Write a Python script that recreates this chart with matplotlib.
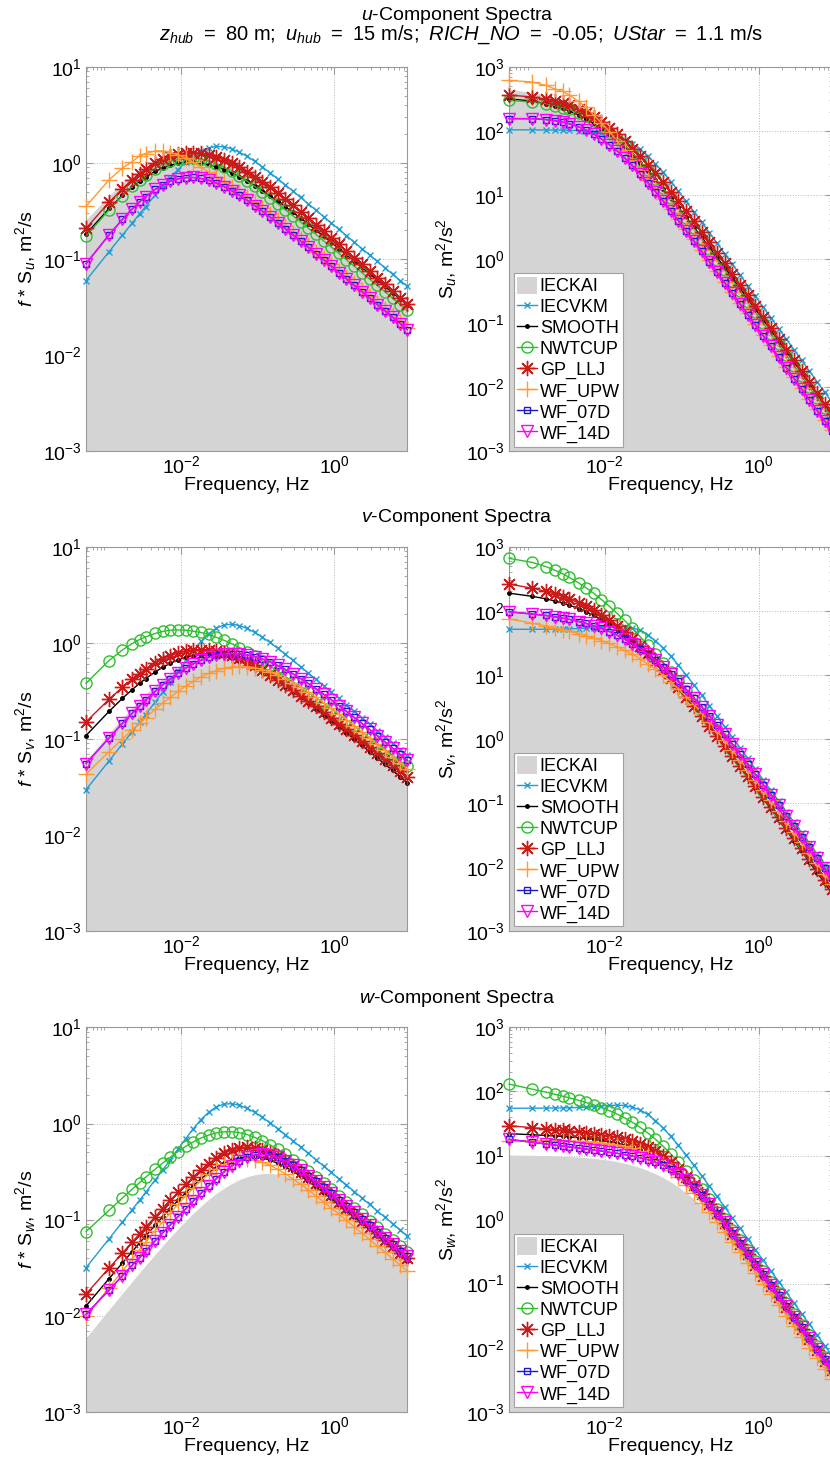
#!/usr/bin/env python3
"""
u, v and w turbulence spectra for the TurbSim spectral models (log-log),
premultiplied (f*S) on the left and plain S on the right.
"""

import numpy as np
import matplotlib
matplotlib.use('Agg')
import matplotlib.pyplot as plt
from matplotlib.patches import Patch
from matplotlib.ticker import FixedLocator, LogLocator, NullFormatter, LogFormatterSciNotation

# Frequencies of the plotted points, Hz
freq = [0.000575, 0.00115, 0.00172, 0.0023, 0.00287, 0.00345, 0.0046, 0.00575, 0.00724, 0.00911,
        0.0115, 0.0144, 0.0182, 0.0229, 0.0288, 0.0363, 0.0457, 0.0575, 0.0724, 0.0911,
        0.115, 0.144, 0.182, 0.229, 0.288, 0.363, 0.457, 0.575, 0.724, 0.911,
        1.15, 1.44, 1.82, 2.29, 2.88, 3.63, 4.57, 5.75, 7.24, 8.91]

# Premultiplied spectra f*S, m^2/s (S itself = f*S / f)
u_ieckai = [0.256, 0.456, 0.612, 0.738, 0.836, 0.917, 1.03, 1.11, 1.17, 1.2,
            1.21, 1.19, 1.15, 1.09, 1.02, 0.941, 0.856, 0.77, 0.687, 0.609,
            0.535, 0.47, 0.409, 0.355, 0.308, 0.267, 0.23, 0.199, 0.171, 0.147,
            0.126, 0.109, 0.0934, 0.0803, 0.069, 0.0592, 0.0508, 0.0436, 0.0374, 0.0326]
u_iecvkm = [0.0595, 0.119, 0.177, 0.236, 0.294, 0.351, 0.463, 0.57, 0.701, 0.85,
            1.02, 1.18, 1.32, 1.43, 1.48, 1.47, 1.4, 1.29, 1.17, 1.04,
            0.907, 0.791, 0.683, 0.59, 0.508, 0.436, 0.375, 0.322, 0.276, 0.237,
            0.203, 0.175, 0.149, 0.128, 0.11, 0.0944, 0.0809, 0.0694, 0.0596, 0.0519]
u_smooth = [0.181, 0.335, 0.459, 0.561, 0.643, 0.712, 0.814, 0.884, 0.943, 0.985,
            1.01, 1.01, 0.993, 0.959, 0.911, 0.852, 0.786, 0.717, 0.648, 0.58,
            0.515, 0.456, 0.4, 0.35, 0.306, 0.266, 0.23, 0.199, 0.172, 0.149,
            0.128, 0.111, 0.0948, 0.0816, 0.0702, 0.0603, 0.0517, 0.0445, 0.0382, 0.0333]
u_nwtcup = [0.172, 0.324, 0.454, 0.568, 0.663, 0.745, 0.873, 0.963, 1.04, 1.1,
            1.12, 1.12, 1.1, 1.04, 0.977, 0.897, 0.813, 0.728, 0.646, 0.569,
            0.497, 0.434, 0.376, 0.325, 0.281, 0.242, 0.209, 0.18, 0.154, 0.133,
            0.114, 0.098, 0.0839, 0.072, 0.0618, 0.053, 0.0455, 0.039, 0.0335, 0.0291]
u_gp_llj = [0.208, 0.388, 0.537, 0.664, 0.768, 0.857, 0.993, 1.09, 1.17, 1.23,
            1.27, 1.28, 1.26, 1.21, 1.15, 1.07, 0.987, 0.897, 0.806, 0.718,
            0.635, 0.556, 0.482, 0.417, 0.36, 0.309, 0.266, 0.228, 0.195, 0.166,
            0.142, 0.121, 0.103, 0.088, 0.075, 0.0638, 0.0543, 0.0463, 0.0394, 0.034]
u_wf_upw = [0.352, 0.665, 0.884, 1.03, 1.18, 1.25, 1.33, 1.33, 1.28, 1.21,
            1.12, 1.01, 0.9, 0.8, 0.71, 0.63, 0.56, 0.495, 0.44, 0.388,
            0.339, 0.294, 0.253, 0.218, 0.188, 0.161, 0.139, 0.119, 0.102, 0.0879,
            0.0753, 0.0649, 0.0555, 0.0477, 0.0409, 0.0351, 0.0301, 0.0258, 0.0221, 0.0193]
u_wf_07d = [0.0891, 0.178, 0.258, 0.33, 0.391, 0.445, 0.529, 0.589, 0.642, 0.681,
            0.702, 0.704, 0.688, 0.658, 0.616, 0.566, 0.513, 0.46, 0.408, 0.359,
            0.314, 0.274, 0.238, 0.206, 0.178, 0.153, 0.132, 0.113, 0.0976, 0.0839,
            0.0719, 0.0619, 0.053, 0.0455, 0.0391, 0.0335, 0.0288, 0.0247, 0.0212, 0.0184]
u_wf_14d = [0.0891, 0.178, 0.258, 0.33, 0.391, 0.445, 0.529, 0.589, 0.642, 0.681,
            0.702, 0.704, 0.688, 0.658, 0.616, 0.566, 0.513, 0.46, 0.408, 0.359,
            0.314, 0.274, 0.238, 0.206, 0.178, 0.153, 0.132, 0.113, 0.0976, 0.0839,
            0.0719, 0.0619, 0.053, 0.0455, 0.0391, 0.0335, 0.0288, 0.0247, 0.0212, 0.0184]

v_ieckai = [0.0593, 0.114, 0.163, 0.21, 0.252, 0.292, 0.361, 0.421, 0.486, 0.551,
            0.615, 0.671, 0.719, 0.752, 0.77, 0.772, 0.758, 0.73, 0.69, 0.643,
            0.589, 0.536, 0.48, 0.428, 0.379, 0.333, 0.291, 0.254, 0.22, 0.191,
            0.165, 0.143, 0.123, 0.106, 0.0911, 0.0782, 0.0672, 0.0578, 0.0496, 0.0433]
v_iecvkm = [0.0295, 0.059, 0.0884, 0.119, 0.149, 0.179, 0.242, 0.306, 0.392, 0.503,
            0.648, 0.822, 1.03, 1.24, 1.42, 1.53, 1.56, 1.51, 1.41, 1.28,
            1.14, 1.01, 0.875, 0.758, 0.655, 0.563, 0.484, 0.416, 0.357, 0.307,
            0.263, 0.226, 0.194, 0.166, 0.143, 0.122, 0.105, 0.0899, 0.0771, 0.0671]
v_smooth = [0.108, 0.193, 0.264, 0.325, 0.377, 0.423, 0.497, 0.555, 0.611, 0.662,
            0.705, 0.734, 0.752, 0.755, 0.744, 0.72, 0.686, 0.645, 0.597, 0.547,
            0.494, 0.445, 0.396, 0.35, 0.309, 0.27, 0.236, 0.205, 0.178, 0.154,
            0.133, 0.115, 0.0993, 0.0855, 0.0737, 0.0633, 0.0544, 0.0468, 0.0402, 0.035]
v_nwtcup = [0.378, 0.653, 0.842, 0.979, 1.08, 1.15, 1.25, 1.31, 1.35, 1.36,
            1.35, 1.32, 1.28, 1.22, 1.14, 1.06, 0.978, 0.892, 0.807, 0.725,
            0.646, 0.575, 0.507, 0.446, 0.392, 0.346, 0.304, 0.267, 0.235, 0.205,
            0.179, 0.157, 0.137, 0.118, 0.103, 0.0898, 0.0781, 0.0678, 0.0588, 0.0519]
v_gp_llj = [0.15, 0.258, 0.344, 0.417, 0.477, 0.529, 0.611, 0.672, 0.73, 0.78,
            0.818, 0.841, 0.85, 0.843, 0.822, 0.788, 0.744, 0.693, 0.637, 0.58,
            0.522, 0.467, 0.414, 0.365, 0.321, 0.282, 0.248, 0.217, 0.19, 0.165,
            0.144, 0.126, 0.109, 0.0943, 0.0819, 0.0708, 0.0614, 0.0531, 0.0459, 0.0403]
v_wf_upw = [0.0429, 0.0734, 0.0997, 0.124, 0.145, 0.166, 0.202, 0.235, 0.271, 0.311,
            0.354, 0.396, 0.439, 0.479, 0.513, 0.54, 0.558, 0.566, 0.563, 0.549,
            0.526, 0.497, 0.461, 0.423, 0.383, 0.344, 0.306, 0.27, 0.238, 0.208,
            0.181, 0.158, 0.136, 0.118, 0.102, 0.0877, 0.0756, 0.065, 0.0559, 0.0488]
v_wf_07d = [0.0553, 0.102, 0.145, 0.184, 0.219, 0.253, 0.312, 0.364, 0.421, 0.482,
            0.544, 0.602, 0.658, 0.704, 0.74, 0.764, 0.772, 0.767, 0.748, 0.717,
            0.677, 0.631, 0.58, 0.527, 0.475, 0.424, 0.377, 0.332, 0.292, 0.255,
            0.222, 0.193, 0.167, 0.145, 0.125, 0.108, 0.0929, 0.08, 0.0688, 0.06]
v_wf_14d = [0.0553, 0.102, 0.145, 0.184, 0.219, 0.253, 0.312, 0.364, 0.421, 0.482,
            0.544, 0.602, 0.658, 0.704, 0.74, 0.764, 0.772, 0.767, 0.748, 0.717,
            0.677, 0.631, 0.58, 0.527, 0.475, 0.424, 0.377, 0.332, 0.292, 0.255,
            0.222, 0.193, 0.167, 0.145, 0.125, 0.108, 0.0929, 0.08, 0.0688, 0.06]

w_ieckai = [0.00585, 0.0116, 0.0171, 0.0227, 0.028, 0.0333, 0.0435, 0.0533, 0.0655, 0.0798,
            0.0968, 0.116, 0.138, 0.162, 0.187, 0.212, 0.237, 0.26, 0.279, 0.293,
            0.301, 0.302, 0.297, 0.287, 0.272, 0.253, 0.233, 0.212, 0.19, 0.17,
            0.15, 0.132, 0.115, 0.101, 0.0875, 0.0758, 0.0656, 0.0566, 0.0488, 0.0427]
w_iecvkm = [0.0315, 0.0631, 0.0946, 0.127, 0.159, 0.192, 0.259, 0.328, 0.42, 0.54,
            0.695, 0.88, 1.1, 1.31, 1.49, 1.59, 1.61, 1.55, 1.44, 1.31,
            1.16, 1.02, 0.885, 0.767, 0.662, 0.569, 0.489, 0.421, 0.361, 0.31,
            0.265, 0.229, 0.196, 0.168, 0.144, 0.123, 0.106, 0.0908, 0.0779, 0.0678]
w_smooth = [0.0126, 0.0243, 0.0354, 0.0464, 0.057, 0.0674, 0.0874, 0.107, 0.13, 0.158,
            0.19, 0.226, 0.266, 0.307, 0.348, 0.387, 0.419, 0.441, 0.452, 0.45,
            0.437, 0.416, 0.386, 0.353, 0.318, 0.283, 0.25, 0.219, 0.191, 0.166,
            0.143, 0.124, 0.107, 0.092, 0.0792, 0.068, 0.0584, 0.0502, 0.0431, 0.0375]
w_nwtcup = [0.075, 0.125, 0.168, 0.207, 0.242, 0.276, 0.335, 0.387, 0.447, 0.511,
            0.578, 0.643, 0.706, 0.758, 0.797, 0.819, 0.821, 0.803, 0.768, 0.72,
            0.662, 0.602, 0.538, 0.477, 0.42, 0.367, 0.319, 0.277, 0.239, 0.207,
            0.178, 0.153, 0.132, 0.113, 0.0972, 0.0834, 0.0716, 0.0614, 0.0527, 0.0459]
w_gp_llj = [0.0168, 0.0313, 0.0449, 0.0582, 0.0709, 0.0834, 0.107, 0.13, 0.159, 0.193,
            0.233, 0.277, 0.329, 0.383, 0.438, 0.489, 0.53, 0.558, 0.567, 0.559,
            0.534, 0.498, 0.454, 0.407, 0.361, 0.316, 0.276, 0.239, 0.207, 0.179,
            0.153, 0.132, 0.114, 0.0975, 0.0838, 0.0719, 0.0617, 0.0529, 0.0454, 0.0395]
w_wf_upw = [0.00984, 0.0196, 0.0293, 0.039, 0.0485, 0.058, 0.0766, 0.0947, 0.117, 0.144,
            0.177, 0.212, 0.254, 0.296, 0.338, 0.375, 0.404, 0.421, 0.425, 0.416,
            0.395, 0.368, 0.334, 0.3, 0.266, 0.233, 0.204, 0.177, 0.153, 0.132,
            0.114, 0.0981, 0.0841, 0.0722, 0.0621, 0.0532, 0.0457, 0.0392, 0.0336, 0.0293]
w_wf_07d = [0.0103, 0.0185, 0.0261, 0.0334, 0.0403, 0.0471, 0.0601, 0.0725, 0.088, 0.107,
            0.129, 0.156, 0.188, 0.225, 0.266, 0.313, 0.36, 0.406, 0.444, 0.469,
            0.477, 0.468, 0.443, 0.408, 0.368, 0.327, 0.287, 0.25, 0.216, 0.187,
            0.161, 0.139, 0.119, 0.102, 0.0876, 0.0751, 0.0645, 0.0553, 0.0475, 0.0413]
w_wf_14d = [0.0103, 0.0185, 0.0261, 0.0334, 0.0403, 0.0471, 0.0601, 0.0725, 0.088, 0.107,
            0.129, 0.156, 0.188, 0.225, 0.266, 0.313, 0.36, 0.406, 0.444, 0.469,
            0.477, 0.468, 0.443, 0.408, 0.368, 0.327, 0.287, 0.25, 0.216, 0.187,
            0.161, 0.139, 0.119, 0.102, 0.0876, 0.0751, 0.0645, 0.0553, 0.0475, 0.0413]

models = ['IECVKM', 'SMOOTH', 'NWTCUP', 'GP_LLJ', 'WF_UPW', 'WF_07D', 'WF_14D']
spectra = {
    'u': [u_iecvkm, u_smooth, u_nwtcup, u_gp_llj, u_wf_upw, u_wf_07d, u_wf_14d],
    'v': [v_iecvkm, v_smooth, v_nwtcup, v_gp_llj, v_wf_upw, v_wf_07d, v_wf_14d],
    'w': [w_iecvkm, w_smooth, w_nwtcup, w_gp_llj, w_wf_upw, w_wf_07d, w_wf_14d],
}
kaimal = {'u': u_ieckai, 'v': v_ieckai, 'w': w_ieckai}

styles = {
    'IECVKM': dict(color='#1f9dd4', marker='x', ms=4, mew=1.0),
    'SMOOTH': dict(color='black', marker='.', ms=5),
    'NWTCUP': dict(color='#2dbf2d', marker='o', ms=8, mfc='none', mew=1.0),
    'GP_LLJ': dict(color='#cc1a1a', marker=(8, 2, 0), ms=11, mew=1.0),
    'WF_UPW': dict(color='#ff9933', marker='+', ms=11, mew=1.0),
    'WF_07D': dict(color='#1a1acc', marker='s', ms=4, mfc='none', mew=1.0),
    'WF_14D': dict(color='#ff00ff', marker='v', ms=9, mfc='none', mew=1.0),
}
KAI_COLOR = '#d4d4d4'
SPINE_COLOR = '#9a9a9a'
EN = '\u2002'  # wider gaps, as in the original title line


def style_axes(ax, ylim):
    ax.set_xscale('log')
    ax.set_yscale('log')
    ax.set_xlim(5.75e-4, 8.95)
    ax.set_ylim(*ylim)
    ax.xaxis.set_major_locator(FixedLocator([1e-2, 1e0]))
    ax.xaxis.set_major_formatter(LogFormatterSciNotation())
    ax.xaxis.set_minor_locator(LogLocator(base=10, subs=np.arange(1, 10) * 1.0, numticks=60))
    ax.xaxis.set_minor_formatter(NullFormatter())
    ax.yaxis.set_major_locator(LogLocator(base=10, numticks=20))
    ax.yaxis.set_minor_locator(LogLocator(base=10, subs=np.arange(2, 10) * 1.0, numticks=60))
    ax.yaxis.set_minor_formatter(NullFormatter())
    ax.tick_params(which='both', direction='in', top=True, right=True, color=SPINE_COLOR,
                   labelcolor='black', labelsize=14, pad=3)
    ax.tick_params(which='major', length=5)
    ax.tick_params(which='minor', length=2.5)
    for sp in ax.spines.values():
        sp.set_color(SPINE_COLOR)
        sp.set_linewidth(0.8)
    ax.grid(True, which='major', ls=':', color='#b8b8b8', lw=0.7)
    ax.set_axisbelow(True)
    ax.set_xlabel('Frequency, Hz', fontsize=14, labelpad=0)


def main():
    plt.rcParams['font.family'] = ['Liberation Sans', 'DejaVu Sans']
    plt.rcParams['mathtext.fontset'] = 'custom'
    plt.rcParams['mathtext.rm'] = 'Liberation Sans'
    plt.rcParams['mathtext.it'] = 'Liberation Sans:italic'
    plt.rcParams['mathtext.bf'] = 'Liberation Sans:bold'
    plt.rcParams['axes.unicode_minus'] = False

    f = np.array(freq)
    fig = plt.figure(figsize=(8.3, 14.64), dpi=100)
    bottoms = {'u': 0.6919, 'v': 0.3641, 'w': 0.0357}
    height = 0.2625

    for comp in 'uvw':
        axl = fig.add_axes([0.1036, bottoms[comp], 0.3871, height])
        axr = fig.add_axes([0.6133, bottoms[comp], 0.389, height])
        style_axes(axl, (1e-3, 1e1))
        style_axes(axr, (1e-3, 1e3))

        fs_kai = np.array(kaimal[comp])
        axl.fill_between(f, fs_kai, 1e-4, color=KAI_COLOR, lw=0, zorder=1)
        axr.fill_between(f, fs_kai / f, 1e-4, color=KAI_COLOR, lw=0, zorder=1)

        handles = [Patch(facecolor=KAI_COLOR, edgecolor='none', label='IECKAI')]
        for name, fs in zip(models, spectra[comp]):
            fs = np.array(fs)
            axl.plot(f, fs, lw=1, label=name, zorder=3, clip_on=False, **styles[name])
            h, = axr.plot(f, fs / f, lw=1, label=name, zorder=3, clip_on=False, **styles[name])
            handles.append(h)

        axl.set_ylabel(r'$\mathit{f}$ * S$_{\mathit{%s}}$, m$^2$/s' % comp, fontsize=14)
        axr.set_ylabel(r'S$_{\mathit{%s}}$, m$^2$/s$^2$' % comp, fontsize=14)
        axl.yaxis.set_label_coords(-0.15, 0.5)
        axr.yaxis.set_label_coords(-0.155, 0.5)

        leg = axr.legend(handles=handles, loc='lower left', bbox_to_anchor=(0, 0),
                         borderaxespad=0.25, fontsize=13, labelspacing=0.12,
                         handlelength=1.1, handleheight=1.1, handletextpad=0.15,
                         borderpad=0.2, fancybox=False, edgecolor='#a0a0a0', framealpha=1)
        leg.get_frame().set_linewidth(0.8)

    fig.text(0.551, 1 - 20 / 1464, r'$\mathit{u}$-Component Spectra',
             ha='center', va='baseline', fontsize=14)
    subtitle = (r'$z_{\mathit{hub}}$' + EN + '=' + EN + '80 m;' + EN +
                r'$u_{\mathit{hub}}$' + EN + '=' + EN + '15 m/s;' + EN +
                r'$\mathit{RICH\_NO}$' + EN + '=' + EN + '-0.05;' + EN +
                r'$\mathit{UStar}$' + EN + '=' + EN + '1.1 m/s')
    fig.text(0.555, 1 - 40 / 1464, subtitle, ha='center', va='baseline', fontsize=14.5)
    fig.text(0.551, 1 - 522 / 1464, r'$\mathit{v}$-Component Spectra',
             ha='center', va='baseline', fontsize=14)
    fig.text(0.551, 1 - 1003 / 1464, r'$\mathit{w}$-Component Spectra',
             ha='center', va='baseline', fontsize=14)

    fig.savefig('out.png', dpi=100)


if __name__ == "__main__":
    main()
